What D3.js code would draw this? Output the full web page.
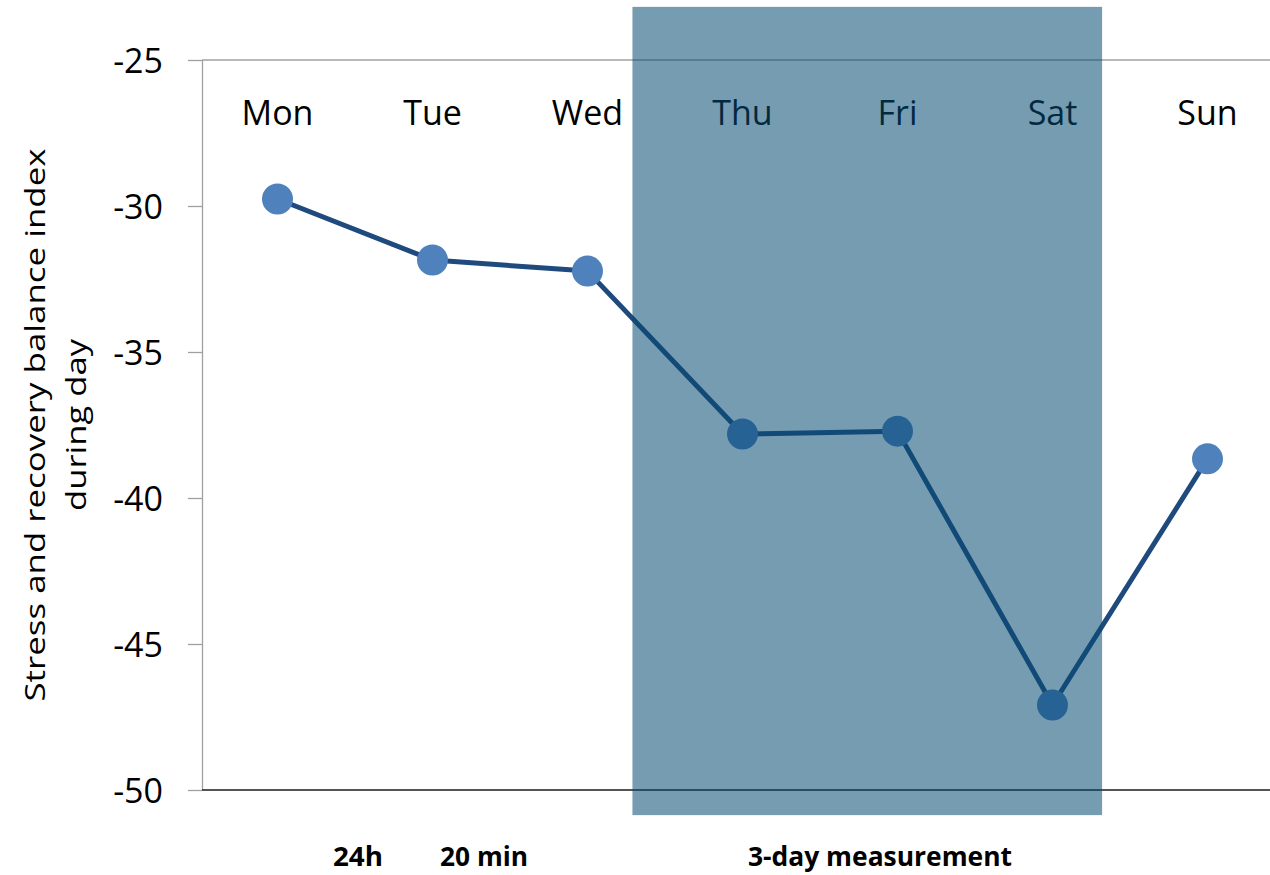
<!DOCTYPE html>
<html>
<head>
<meta charset="utf-8">
<script src="https://cdn.jsdelivr.net/npm/d3@7"></script>
<style>
  html, body { margin: 0; padding: 0; background: #fff; }
  svg { display: block; }
  text { font-family: "Open Sans", "DejaVu Sans", sans-serif; }
</style>
</head>
<body>
<svg id="chart" width="1270" height="875"></svg>
<script>
// ---- data ----
const days = ["Mon", "Tue", "Wed", "Thu", "Fri", "Sat", "Sun"];
const values = [-29.76, -31.85, -32.23, -37.81, -37.71, -47.09, -38.66];
const yTicks = [-25, -30, -35, -40, -45, -50];
const yTitleLines = ["Stress and recovery balance index", "during day"];
const bottomLabels = ["24h", "20 min", "3-day measurement"];
// shaded period (in category-index units and value units)
const shadeIdx = [2.29, 5.32];
const shadeVal = [-23.18, -50.86];

// ---- layout ----
const svg = d3.select("#chart");
const W = 1270;
const x = d3.scalePoint().domain(days).range([200, 1285]).padding(0.5);
const step = x.step();
const xi = i => x(days[0]) + i * step;
const y = d3.scaleLinear().domain([-50, -25]).range([790, 60]);
const axisX = 202;

const g = svg.append("g");

// y axis via d3.axisLeft
const yAxis = d3.axisLeft(y).tickValues(yTicks).tickSize(14).tickPadding(25)
  .tickFormat(d => d3.format("d")(d).replace("−", "-"));
const ya = g.append("g").attr("transform", `translate(${axisX},0)`).call(yAxis);
ya.select(".domain").attr("stroke", "#a0a0a0").attr("stroke-width", 1.3)
  .attr("d", `M0.5,${y(-25)}V${y(-50)}`);
ya.selectAll(".tick line").attr("stroke", "#a0a0a0").attr("stroke-width", 1.3);
ya.selectAll(".tick text").attr("font-size", 34).attr("fill", "#000").attr("dy", "0.36em");

// top gridline at -25
g.append("line").attr("x1", axisX).attr("x2", W).attr("y1", y(-25)).attr("y2", y(-25))
  .attr("stroke", "#a0a0a0").attr("stroke-width", 1.5);
// bottom axis line at -50 (black)
g.append("line").attr("x1", axisX).attr("x2", W).attr("y1", y(-50)).attr("y2", y(-50))
  .attr("stroke", "#1a1a1a").attr("stroke-width", 1.5);

// day labels
g.selectAll(".day").data(days).enter().append("text")
  .attr("class", "day")
  .attr("x", d => x(d)).attr("y", 125)
  .attr("text-anchor", "middle").attr("font-size", 34).attr("fill", "#000")
  .text(d => d);

// line
const line = d3.line().x((d, i) => x(days[i])).y(d => y(d));
g.append("path").datum(values).attr("d", line)
  .attr("fill", "none").attr("stroke", "#1f4a7d").attr("stroke-width", 5)
  .attr("stroke-linejoin", "round");

// points
g.selectAll(".pt").data(values).enter().append("circle")
  .attr("cx", (d, i) => x(days[i])).attr("cy", d => y(d)).attr("r", 15.5)
  .attr("fill", "#4f81bd");

// shaded period (semi-transparent, on top)
g.append("rect")
  .attr("x", xi(shadeIdx[0])).attr("width", xi(shadeIdx[1]) - xi(shadeIdx[0]))
  .attr("y", y(shadeVal[0])).attr("height", y(shadeVal[1]) - y(shadeVal[0]))
  .attr("fill", "rgb(6,75,115)").attr("fill-opacity", 0.55);

// y title
const yc = (y(-25) + y(-50)) / 2;
const titleX = [45, 86];
const titleLen = [553, 172];
yTitleLines.forEach((t, i) => {
  g.append("text")
    .attr("transform", `translate(${titleX[i]},${yc}) rotate(-90)`)
    .attr("text-anchor", "middle").attr("font-size", 28).attr("fill", "#000")
    .attr("textLength", titleLen[i]).attr("lengthAdjust", "spacingAndGlyphs")
    .text(t);
});

// bottom labels
const bx = [333, 440, 748];
const bw = [50, 88, 264];
bottomLabels.forEach((t, i) => {
  g.append("text")
    .attr("x", bx[i]).attr("y", 866)
    .attr("font-size", 26).attr("font-weight", "bold").attr("fill", "#000")
    .attr("textLength", bw[i]).attr("lengthAdjust", "spacingAndGlyphs")
    .text(t);
});
</script>
</body>
</html>
